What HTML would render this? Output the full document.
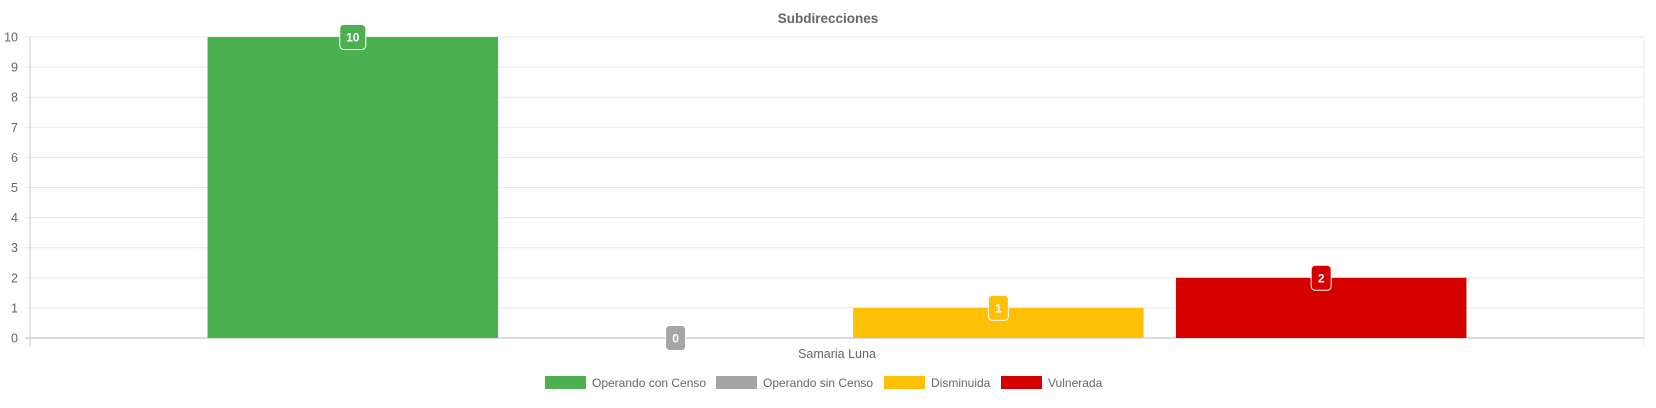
<!DOCTYPE html>
<html><head><meta charset="utf-8"><style>
body{margin:0;background:#fff;width:1656px;height:408px;overflow:hidden;font-family:"Liberation Sans",sans-serif}
</style></head><body>
<svg id="c" width="1656" height="408" style="position:absolute;left:0;top:0"></svg>
<script>
const categories=["Samaria Luna"];
const seriesNames=["Operando con Censo","Operando sin Censo","Disminuida","Vulnerada"];
const seriesColors=["#4caf50","#a5a5a5","#fec006","#d50000"];
const seriesValues=[[10],[0],[1],[2]];
const yTicks=[0,1,2,3,4,5,6,7,8,9,10];
const NS="http://www.w3.org/2000/svg";
const svg=document.getElementById('c');
const L=30,R=1644,T=37,B=338,yMax=10;
const y=v=>B-(B-T)*v/yMax;
function mk(t,a,p){const e=document.createElementNS(NS,t);for(const k in a)e.setAttribute(k,a[k]);(p||svg).appendChild(e);return e;}
let t=mk('text',{x:828,y:23,'text-anchor':'middle','font-size':13.5,'font-weight':'bold',fill:'#666'});t.textContent='Subdirecciones';


yTicks.forEach(v=>{
 const g=mk('line',{x1:L-5,x2:R,y1:y(v),y2:y(v),stroke:v===0?'#bbb':'#e8e8e8','stroke-width':1});
 
 
 const tx=mk('text',{x:18,y:y(v)+4.5,'text-anchor':'end','font-size':12.5,fill:'#666'});tx.textContent=v;
 
 
});
mk('line',{x1:L,x2:L,y1:T,y2:B+8,stroke:'#ccc'});
mk('line',{x1:R,x2:R,y1:T,y2:B+8,stroke:'#e8e8e8'});
const catW=(R-L)/categories.length;
categories.forEach((c,ci)=>{
 const cx=L+catW*(ci+0.5);
 const tx=mk('text',{x:cx,y:358,'text-anchor':'middle','font-size':12.5,fill:'#666'});tx.textContent=c;
 
 
 const gw=catW*0.8,slot=gw/seriesValues.length,bw=slot*0.9;
 seriesValues.forEach((s,si)=>{
  const v=s[ci];const x0=cx-gw/2+slot*si+(slot-bw)/2;
  const r=mk('rect',{x:x0,y:y(v),width:bw,height:B-y(v),fill:seriesColors[si]});
  
  
  const lw=String(v).length>1?26:20;const bx=x0+bw/2;
  const lb=mk('rect',{x:bx-lw/2,y:y(v)-12.5,width:lw,height:25,rx:4,fill:seriesColors[si],stroke:'#fff','stroke-width':1});
  
  
  const lt=mk('text',{x:bx,y:y(v)+4.5,'text-anchor':'middle','font-size':12,'font-weight':'bold',fill:'#fff'});lt.textContent=v;
  
  
 });
});
const legX=[545,716,884,1001];
seriesNames.forEach((n,i)=>{
 const g=mk('g',{});
 
 
 mk('rect',{x:legX[i],y:376,width:41,height:13,fill:seriesColors[i]},g);
 const tx=mk('text',{x:legX[i]+47,y:387,'font-size':12,fill:'#666'},g);tx.textContent=n;
});
</script>
</body></html>
